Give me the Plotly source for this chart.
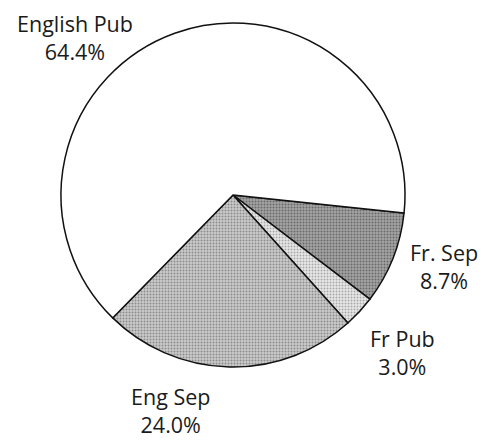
import plotly.graph_objects as go

labels = ["Fr. Sep", "Fr Pub", "Eng Sep", "English Pub"]
values = [8.7, 3.0, 24.0, 64.4]

bg_colors = ["#a4a4a4", "#e8e8e8", "#cbcbcb", "#ffffff"]
fg_colors = ["#6a6a6a", "#a8a8a8", "#8c8c8c", "#ffffff"]

# page has an 8px body margin; figure coordinates are offset accordingly
W, H = 479, 432
OFF = 8


def px(x, y):
    return (x - OFF) / W, 1 - (y - OFF) / H


# label block centers in screenshot pixels
label_pos = {
    "Fr. Sep": px(444, 266),
    "Fr Pub": px(402, 352),
    "Eng Sep": px(170, 410),
    "English Pub": px(75, 37),
}

x0, y_top = px(61, 23)
x1, y_bot = px(405, 367)

fig = go.Figure(
    go.Pie(
        labels=labels,
        values=values,
        sort=False,
        direction="clockwise",
        rotation=96,
        textinfo="none",
        hoverinfo="label+percent",
        marker=dict(
            colors=bg_colors,
            line=dict(color="#111111", width=1.5),
            pattern=dict(
                shape=[".", ".", ".", ""],
                fgcolor=fg_colors,
                bgcolor=bg_colors,
                size=3,
                solidity=0.35,
            ),
        ),
        domain=dict(x=[x0, x1], y=[y_bot, y_top]),
        showlegend=False,
    )
)

for lab, val in zip(labels, values):
    x, y = label_pos[lab]
    fig.add_annotation(
        x=x, y=y, xref="paper", yref="paper",
        text=f"{lab}<br>{val:.1f}%",
        showarrow=False,
        xanchor="center", yanchor="middle",
        font=dict(family="Open Sans", size=21.5, color="#1a1a1a"),
    )

fig.update_layout(
    width=W, height=H,
    margin=dict(l=0, r=0, t=0, b=0),
    paper_bgcolor="white",
    plot_bgcolor="white",
)

fig.write_html("out.html")
